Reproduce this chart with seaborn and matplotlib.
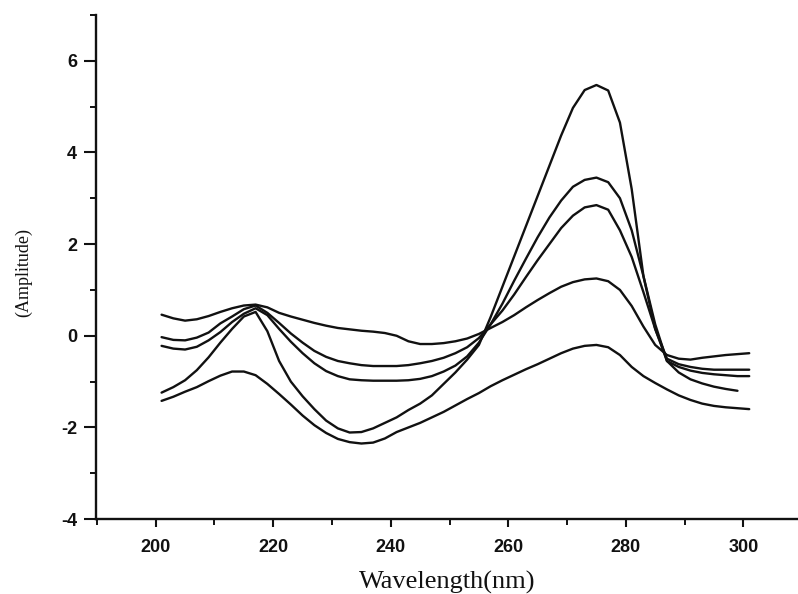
import numpy as np
import pandas as pd
import matplotlib
matplotlib.use("Agg")
import matplotlib.pyplot as plt
from matplotlib.ticker import MultipleLocator
import seaborn as sns

# ---- data ----
wavelength = [201, 203, 205, 207, 209, 211, 213, 215, 217, 219,
              221, 223, 225, 227, 229, 231, 233, 235, 237, 239,
              241, 243, 245, 247, 249, 251, 253, 255, 257, 259,
              261, 263, 265, 267, 269, 271, 273, 275, 277, 279,
              281, 283, 285, 287, 289, 291, 293, 295, 297, 299, 301]

curve_a = [-1.24, -1.12, -0.97, -0.75, -0.47, -0.15, 0.15, 0.42, 0.52, 0.10,
           -0.55, -1.00, -1.32, -1.60, -1.85, -2.02, -2.11, -2.10, -2.02, -1.90,
           -1.78, -1.62, -1.48, -1.30, -1.05, -0.80, -0.52, -0.20, 0.41, 1.07,
           1.73, 2.39, 3.05, 3.71, 4.37, 4.97, 5.36, 5.47, 5.35, 4.65,
           3.20, 1.30, 0.15, -0.55, -0.80, -0.95, -1.04, -1.11, -1.16, -1.20, np.nan]

curve_b = [-0.22, -0.28, -0.30, -0.24, -0.10, 0.08, 0.30, 0.48, 0.60, 0.45,
           0.15, -0.13, -0.38, -0.60, -0.77, -0.88, -0.95, -0.97, -0.98, -0.98,
           -0.98, -0.97, -0.94, -0.88, -0.78, -0.65, -0.45, -0.15, 0.25, 0.70,
           1.20, 1.68, 2.15, 2.58, 2.95, 3.25, 3.40, 3.45, 3.35, 3.00,
           2.30, 1.30, 0.25, -0.55, -0.68, -0.76, -0.81, -0.84, -0.86, -0.88, -0.88]

curve_c = [-0.03, -0.09, -0.10, -0.04, 0.07, 0.27, 0.42, 0.58, 0.66, 0.50,
           0.28, 0.05, -0.15, -0.33, -0.46, -0.55, -0.60, -0.64, -0.66, -0.66,
           -0.66, -0.64, -0.60, -0.55, -0.48, -0.38, -0.25, -0.05, 0.25, 0.55,
           0.90, 1.28, 1.65, 2.00, 2.35, 2.62, 2.80, 2.85, 2.75, 2.30,
           1.72, 0.95, 0.15, -0.50, -0.62, -0.68, -0.72, -0.74, -0.74, -0.74, -0.74]

curve_d = [0.46, 0.38, 0.33, 0.36, 0.43, 0.52, 0.60, 0.66, 0.68, 0.62,
           0.50, 0.42, 0.35, 0.28, 0.22, 0.17, 0.14, 0.11, 0.09, 0.06,
           0.00, -0.12, -0.18, -0.18, -0.16, -0.12, -0.06, 0.04, 0.17, 0.30,
           0.45, 0.62, 0.78, 0.93, 1.07, 1.17, 1.23, 1.25, 1.19, 1.00,
           0.65, 0.20, -0.20, -0.42, -0.50, -0.52, -0.48, -0.45, -0.42, -0.40, -0.38]

curve_e = [-1.42, -1.33, -1.22, -1.12, -0.99, -0.87, -0.78, -0.78, -0.86, -1.05,
           -1.27, -1.50, -1.74, -1.95, -2.12, -2.25, -2.32, -2.35, -2.33, -2.24,
           -2.10, -2.00, -1.90, -1.78, -1.66, -1.52, -1.38, -1.25, -1.10, -0.97,
           -0.85, -0.73, -0.62, -0.50, -0.38, -0.28, -0.22, -0.20, -0.25, -0.42,
           -0.68, -0.88, -1.03, -1.17, -1.30, -1.40, -1.48, -1.53, -1.56, -1.58, -1.60]

curve_names = ["a", "b", "c", "d", "e"]
curves = [curve_a, curve_b, curve_c, curve_d, curve_e]

y_ticks = [-4, -2, 0, 2, 4, 6]
x_ticks = [200, 220, 240, 260, 280, 300]

frames = []
for name, vals in zip(curve_names, curves):
    frames.append(pd.DataFrame({"wl": wavelength, "amp": vals, "curve": name}))
df = pd.concat(frames, ignore_index=True).dropna()

# ---- style ----
sns.set_style("ticks")
plt.rcParams["font.family"] = ["Liberation Sans", "DejaVu Sans"]
plt.rcParams["axes.unicode_minus"] = False

fig = plt.figure(figsize=(7.98, 5.94), dpi=100)
ax = fig.add_axes([0.12, 0.126, 0.88, 0.849])

sns.lineplot(data=df, x="wl", y="amp", units="curve", estimator=None,
             color="#111111", linewidth=1.7, sort=True, ax=ax, legend=False)

ax.set_xlim(189.8, 309.3)
ax.set_ylim(-4, 7)
ax.set_xticks(x_ticks)
ax.set_yticks(y_ticks)
ax.xaxis.set_minor_locator(MultipleLocator(10))
ax.yaxis.set_minor_locator(MultipleLocator(1))

for side in ["top", "right"]:
    ax.spines[side].set_visible(False)
for side in ["left", "bottom"]:
    ax.spines[side].set_linewidth(1.7)
    ax.spines[side].set_color("#111111")

ax.tick_params(axis="y", which="major", direction="out", length=8.5, width=1.5,
               labelsize=13, colors="#111111", pad=5)
ax.tick_params(axis="x", which="major", direction="out", length=6, width=1.5,
               labelsize=13, colors="#111111", pad=8)
ax.tick_params(which="minor", direction="out", length=4, width=1.4, colors="#111111")
for lab in ax.get_xticklabels() + ax.get_yticklabels():
    lab.set_fontweight("bold")

ax.set_xlabel("Wavelength(nm)", fontsize=19, family=["Liberation Serif"],
              labelpad=11, color="#111111")
ax.set_ylabel("(Amplitude)", fontsize=13, family=["Liberation Serif"],
              color="#111111")
ax.yaxis.set_label_coords(-0.09, 0.49)

fig.savefig("out.png", dpi=100, facecolor="white")
